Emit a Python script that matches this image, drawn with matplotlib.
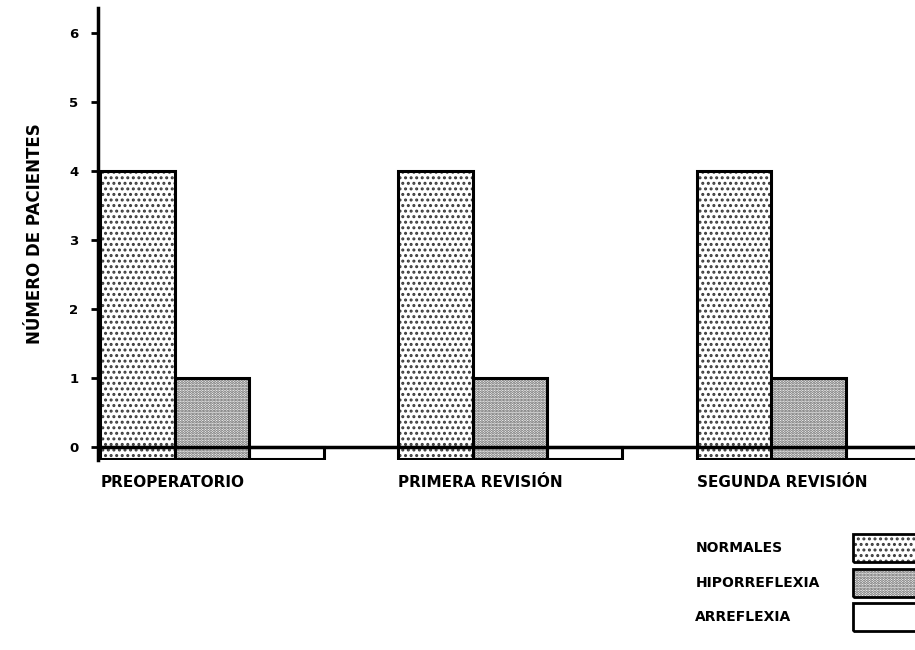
import numpy as np
import matplotlib
matplotlib.use('Agg')
import matplotlib.pyplot as plt
from matplotlib.patches import Rectangle

# data
grupos = ['PREOPERATORIO', 'PRIMERA REVISIÓN', 'SEGUNDA REVISIÓN']
series = ['NORMALES', 'HIPORREFLEXIA', 'ARREFLEXIA']
normales = [4, 4, 4]
hiporreflexia = [1, 1, 1]
arreflexia = [0, 0, 0]
yticks = [0, 1, 2, 3, 4, 5, 6]

plt.rcParams['hatch.linewidth'] = 1.4
plt.rcParams['font.family'] = ['DejaVu Sans']

fig = plt.figure(figsize=(9.15, 6.5), dpi=100)
ax = fig.add_axes([0.107, 0.292, 0.893, 0.696])

base = -0.17
hatches = ['...', '......', '']
tonos = ['#3a3a3a', '#555555', 'white']
valores = [normales, hiporreflexia, arreflexia]
x0 = np.arange(len(grupos)) * 4
for i, (vals, h, c) in enumerate(zip(valores, hatches, tonos)):
    alto = np.array(vals) - base
    # stipple first, then the black outline on top
    ax.bar(x0 + i, alto, bottom=base, width=1, align='edge',
           facecolor='white', edgecolor=c, linewidth=0, hatch=h, zorder=2)
    ax.bar(x0 + i, alto, bottom=base, width=1, align='edge',
           fill=False, edgecolor='black', linewidth=2.2, zorder=3)

ax.axhline(0, color='black', linewidth=2.5, zorder=4)

ax.set_xlim(-0.03, 10.93)
ax.set_ylim(-0.19, 6.36)
for s in ['top', 'right', 'bottom']:
    ax.spines[s].set_visible(False)
ax.spines['left'].set_linewidth(2.5)
ax.set_yticks(yticks)
ax.set_yticklabels([str(t) for t in yticks], fontsize=9.5, fontweight='bold')
ax.tick_params(axis='y', length=5, width=2, pad=9)
ax.set_xticks(x0)
ax.set_xticklabels(grupos, fontsize=11, fontweight='bold', ha='left')
ax.tick_params(axis='x', length=0, pad=11)
ax.set_ylabel('NÚMERO DE PACIENTES', fontsize=12, fontweight='bold', labelpad=18)

# legend drawn as boxes at the lower right
ley_y = [0.157, 0.103, 0.051]
for nombre, h, c, yy in zip(series, hatches, tonos, ley_y):
    fig.text(0.760, yy, nombre, fontsize=10, fontweight='bold', va='center')
    fig.patches.append(Rectangle((0.932, yy - 0.022), 0.1, 0.044, transform=fig.transFigure,
                                 facecolor='white', edgecolor=c, linewidth=0, hatch=h,
                                 clip_on=False))
    fig.patches.append(Rectangle((0.932, yy - 0.022), 0.1, 0.044, transform=fig.transFigure,
                                 fill=False, edgecolor='black', linewidth=2, clip_on=False))

fig.savefig('out.png', dpi=100)
